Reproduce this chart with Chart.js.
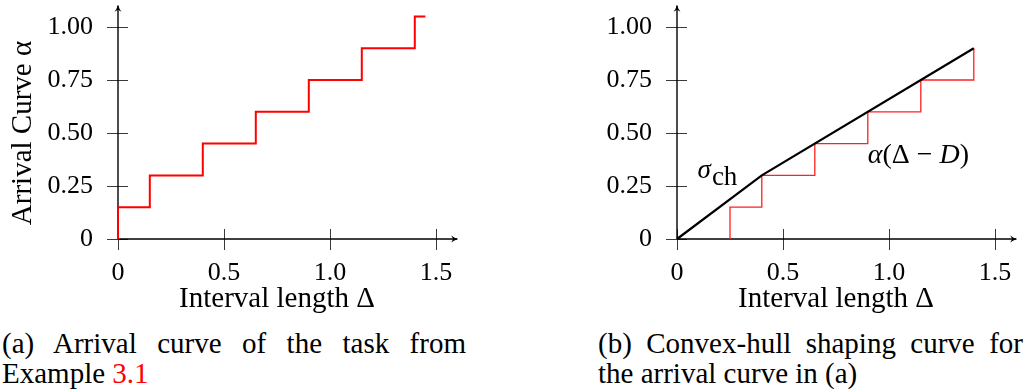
<!DOCTYPE html>
<html>
<head>
<meta charset="utf-8">
<script src="https://cdn.jsdelivr.net/npm/chart.js@4"></script>
<style>
  html, body { margin: 0; padding: 0; background: #fff; }
  body { width: 1025px; height: 391px; position: relative; overflow: hidden; font-family: "Liberation Serif", serif; }
  canvas { position: absolute; top: 0; }
  #arrivalChart { left: 0; }
  #hullChart { left: 559px; }
  .caption { position: absolute; top: 328px; font-size: 29px; line-height: 30px; color: #000; white-space: nowrap; }
  .caption .first { text-align: justify; text-align-last: justify; white-space: normal; }
  #capA { left: 2px; width: 464px; }
  #capB { left: 598px; width: 425px; }
  .ref { color: #ff0000; }
</style>
</head>
<body>
<canvas id="arrivalChart" width="465" height="320"></canvas>
<canvas id="hullChart" width="465" height="320"></canvas>
<div class="caption" id="capA"><div class="first">(a) Arrival curve of the task from</div><div>Example <span class="ref">3.1</span></div></div>
<div class="caption" id="capB"><div class="first">(b) Convex-hull shaping curve for</div><div>the arrival curve in (a)</div></div>
<script>
// arrival curve alpha: jump positions and levels
const arrivalX = [0, 0, 0.15, 0.4, 0.65, 0.9, 1.15, 1.4, 1.45];
const arrivalY = [0, 0.15, 0.3, 0.45, 0.6, 0.75, 0.9, 1.05, 1.05];

// alpha(Δ - D), shifted by D = 0.25
const shiftedX = [0.25, 0.25, 0.4, 0.65, 0.9, 1.15, 1.4];
const shiftedY = [0, 0.15, 0.3, 0.45, 0.6, 0.75, 0.9];

// convex-hull shaping curve sigma_ch
const hullX = [0, 0.4, 1.4];
const hullY = [0, 0.3, 0.9];

const xTickValues = [0, 0.5, 1, 1.5];
const xTickLabels = ['0', '0.5', '1.0', '1.5'];
const yTickValues = [0, 0.25, 0.5, 0.75, 1];
const yTickLabels = ['0', '0.25', '0.50', '0.75', '1.00'];

const FONT = '"Liberation Serif", serif';
const toPoints = (xs, ys) => xs.map((x, i) => ({ x: x, y: ys[i] }));

function line(ctx, x1, y1, x2, y2) {
    ctx.beginPath();
    ctx.moveTo(x1, y1);
    ctx.lineTo(x2, y2);
    ctx.stroke();
}

// pgfplots-style axes: lines through the origin with arrow tips, ticks crossing the axis
const arrowAxes = {
    id: 'arrowAxes',
    beforeDatasetsDraw(chart) {
        const { ctx, scales: { x, y } } = chart;
        const x0 = x.getPixelForValue(0);
        const y0 = y.getPixelForValue(0);
        const xEnd = x.getPixelForValue(1.6);
        const yEnd = y.getPixelForValue(1.1);
        ctx.save();
        ctx.strokeStyle = '#3a3a3a';
        ctx.lineWidth = 1;
        yTickValues.forEach(v => {
            const py = Math.round(y.getPixelForValue(v)) + 0.5;
            line(ctx, x0 - 11, py, x0 + 10, py);
        });
        xTickValues.forEach(v => {
            const px = Math.round(x.getPixelForValue(v)) + 0.5;
            line(ctx, px, y0 - 10, px, y0 + 11);
        });
        ctx.strokeStyle = '#000';
        ctx.lineWidth = 1.4;
        line(ctx, x0, y0, xEnd, y0);
        line(ctx, x0, y0, x0, yEnd);
        ctx.fillStyle = '#000';
        ctx.beginPath();
        ctx.moveTo(xEnd + 1, y0);
        ctx.quadraticCurveTo(xEnd - 3, y0 - 1, xEnd - 6, y0 - 3.5);
        ctx.lineTo(xEnd - 4, y0);
        ctx.lineTo(xEnd - 6, y0 + 3.5);
        ctx.quadraticCurveTo(xEnd - 3, y0 + 1, xEnd + 1, y0);
        ctx.fill();
        ctx.beginPath();
        ctx.moveTo(x0, yEnd - 1);
        ctx.quadraticCurveTo(x0 - 1, yEnd + 3, x0 - 3.5, yEnd + 6);
        ctx.lineTo(x0, yEnd + 4);
        ctx.lineTo(x0 + 3.5, yEnd + 6);
        ctx.quadraticCurveTo(x0 + 1, yEnd + 3, x0, yEnd - 1);
        ctx.fill();
        ctx.restore();
    }
};

// curve names written next to the lines in the hull chart
const curveNames = {
    id: 'curveNames',
    afterDatasetsDraw(chart) {
        const { ctx, scales: { x, y } } = chart;
        ctx.save();
        ctx.fillStyle = '#000';
        ctx.textBaseline = 'alphabetic';
        let px = x.getPixelForValue(0.097);
        ctx.font = 'italic 27px ' + FONT;
        ctx.fillText('σ', px, y.getPixelForValue(0.29));
        px += ctx.measureText('σ').width + 1;
        ctx.font = '27px ' + FONT;
        ctx.fillText('ch', px, y.getPixelForValue(0.255));

        const parts = [['α', 'italic'], ['(Δ − ', ''], ['D', 'italic'], [')', '']];
        px = x.getPixelForValue(0.9);
        const py = y.getPixelForValue(0.36);
        parts.forEach(([txt, style]) => {
            ctx.font = (style ? style + ' ' : '') + '28px ' + FONT;
            ctx.fillText(txt, px, py);
            px += ctx.measureText(txt).width;
        });
        ctx.restore();
    }
};

function makeChart(id, datasets, yTitle, plugins) {
    const ctx = document.getElementById(id).getContext('2d');
    // invisible tick marks only space the labels away from the axes
    const hiddenGrid = len => ({ display: true, drawOnChartArea: false, drawTicks: true, tickLength: len, color: 'rgba(0,0,0,0)' });
    return new Chart(ctx, {
        type: 'line',
        data: { datasets: datasets },
        options: {
            responsive: false,
            animation: false,
            devicePixelRatio: 1,
            layout: { padding: { top: 27, right: 29, bottom: 0, left: 0 } },
            plugins: { legend: { display: false }, tooltip: { enabled: false } },
            elements: { point: { radius: 0 } },
            scales: {
                x: {
                    type: 'linear',
                    min: 0,
                    max: 1.5,
                    grid: hiddenGrid(19),
                    border: { display: false },
                    afterBuildTicks: scale => { scale.ticks = xTickValues.map(v => ({ value: v })); },
                    afterFit: scale => { scale.height = 81; },
                    ticks: {
                        padding: 0,
                        color: '#000',
                        font: { family: FONT, size: 26 },
                        maxRotation: 0,
                        callback: v => xTickLabels[xTickValues.indexOf(v)]
                    },
                    title: {
                        display: true,
                        text: 'Interval length Δ',
                        color: '#000',
                        font: { family: FONT, size: 29, lineHeight: 1.2 },
                        padding: { top: 0, bottom: 3 }
                    }
                },
                y: {
                    type: 'linear',
                    min: 0,
                    max: 1,
                    grid: hiddenGrid(25),
                    border: { display: false },
                    afterBuildTicks: scale => { scale.ticks = yTickValues.map(v => ({ value: v })); },
                    afterFit: scale => { scale.width = 118; },
                    ticks: {
                        padding: 0,
                        color: '#000',
                        font: { family: FONT, size: 26 },
                        callback: v => yTickLabels[yTickValues.indexOf(v)]
                    },
                    title: {
                        display: !!yTitle,
                        text: yTitle,
                        color: '#000',
                        font: { family: FONT, size: 29, lineHeight: 1.2 },
                        padding: { top: 6, bottom: 0 }
                    }
                }
            }
        },
        plugins: plugins
    });
}

makeChart('arrivalChart', [{
    data: toPoints(arrivalX, arrivalY),
    borderColor: '#ff0000',
    borderWidth: 2,
    stepped: 'before',
    clip: false
}], 'Arrival Curve α', [arrowAxes]);

makeChart('hullChart', [{
    data: toPoints(hullX, hullY),
    borderColor: '#000',
    borderWidth: 2.2,
    clip: false
}, {
    data: toPoints(shiftedX, shiftedY),
    borderColor: '#ff2020',
    borderWidth: 1.3,
    stepped: 'before',
    clip: false
}], '', [arrowAxes, curveNames]);
</script>
</body>
</html>
